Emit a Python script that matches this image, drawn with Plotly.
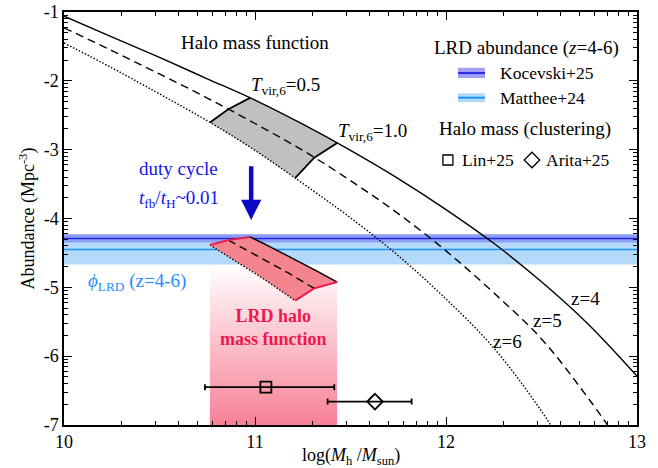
import numpy as np
import plotly.graph_objects as go

# ---------------- data ----------------
logM = [10.0, 10.25, 10.5, 10.75, 11.0, 11.25, 11.5, 11.75, 12.0, 12.25, 12.5, 12.75, 13.0]
hmf_z4 = [-1.06, -1.36, -1.66, -1.97, -2.28, -2.63, -3.01, -3.42, -3.87, -4.36, -4.92, -5.55, -6.29]
hmf_z5 = [-1.23, -1.56, -1.90, -2.25, -2.62, -3.01, -3.45, -3.93, -4.47, -5.08, -5.75, -6.63, -7.62]
hmf_z6 = [-1.45, -1.81, -2.19, -2.58, -3.01, -3.49, -3.99, -4.54, -5.17, -5.88, -6.80, -7.90, -9.00]
redshift_labels = ["z=4", "z=5", "z=6"]

# halo masses where T_vir,6 = 0.5 and 1.0 (z=4, 5, 6)
Mh_T05 = [10.974, 10.86, 10.764]
Mh_T10 = [11.43, 11.31, 11.21]
# log duty cycle (t_fb / t_H) per redshift
log_duty = [-2.02, -1.90, -1.78]

# LRD abundance bands: (centre, upper, lower)
kocevski = [-4.29, -4.23, -4.35]
matthee = [-4.45, -4.23, -4.67]

# clustering halo masses
lin_M, lin_lo, lin_hi, lin_phi = 11.057, 10.738, 11.415, -6.45
arita_M, arita_lo, arita_hi, arita_phi = 11.628, 11.38, 11.82, -6.66

xticks = [10, 11, 12, 13]
yticks = [-7, -6, -5, -4, -3, -2, -1]

# ---------------- helpers ----------------
curves = [hmf_z4, hmf_z5, hmf_z6]


def at(curve, m, shift=0.0):
    return float(np.interp(m, logM, curve)) + shift


def seg(curve, a, b, shift=0.0, n=40):
    xs = np.linspace(a, b, n)
    return list(xs), list(np.interp(xs, logM, curve) + shift)


def region(shifts):
    x4, y4 = seg(hmf_z4, Mh_T05[0], Mh_T10[0], shifts[0])
    x6, y6 = seg(hmf_z6, Mh_T10[2], Mh_T05[2], shifts[2])
    xs = x4 + [Mh_T10[1]] + x6 + [Mh_T05[1], Mh_T05[0]]
    ys = y4 + [at(hmf_z5, Mh_T10[1], shifts[1])] + y6 + [at(hmf_z5, Mh_T05[1], shifts[1]), y4[0]]
    return xs, ys


FONT = "Liberation Serif"
FS = 19
fig = go.Figure()

# pink gradient under LRD halo mass function
fig.add_trace(go.Scatter(
    x=[Mh_T05[2], Mh_T10[0], Mh_T10[0], Mh_T05[2], Mh_T05[2]],
    y=[-7, -7, matthee[2], matthee[2], -7],
    fill="toself", mode="none",
    fillgradient=dict(type="vertical", start=-7, stop=matthee[2],
                      colorscale=[[0, "rgb(247,128,150)"], [1, "rgb(255,255,255)"]]),
    hoverinfo="skip", showlegend=False))

# bands
fig.add_trace(go.Scatter(x=[10, 13, 13, 10, 10], y=[matthee[1], matthee[1], matthee[2], matthee[2], matthee[1]],
                         fill="toself", mode="none", fillcolor="rgb(180,218,250)", showlegend=False))
fig.add_trace(go.Scatter(x=[10, 13, 13, 10, 10], y=[kocevski[1], kocevski[1], kocevski[2], kocevski[2], kocevski[1]],
                         fill="toself", mode="none", fillcolor="rgba(100,100,240,0.5)", showlegend=False))
fig.add_trace(go.Scatter(x=[10, 13], y=[matthee[0]] * 2, mode="lines",
                         line=dict(color="rgb(30,144,255)", width=1.5), showlegend=False))
fig.add_trace(go.Scatter(x=[10, 13], y=[kocevski[0]] * 2, mode="lines",
                         line=dict(color="rgb(40,40,225)", width=1.5), showlegend=False))

# gray region (HMF between T_vir,6 = 0.5 and 1.0)
gx, gy = region([0, 0, 0])
fig.add_trace(go.Scatter(x=gx, y=gy, fill="toself", mode="none", fillcolor="rgb(192,192,192)", showlegend=False))

# HMF curves
dashes = ["solid", "8px,5px", "1.5px,1.8px"]
for c, d in zip(curves, dashes):
    fig.add_trace(go.Scatter(x=logM, y=c, mode="lines", line=dict(color="black", width=1.4, dash=d, shape="spline"),
                             showlegend=False))

# T_vir lines
for Ms in (Mh_T05, Mh_T10):
    fig.add_trace(go.Scatter(x=Ms, y=[at(c, m) for c, m in zip(curves, Ms)], mode="lines",
                             line=dict(color="black", width=1.8), showlegend=False))

# LRD halo mass function region (HMF x duty cycle)
rx, ry = region(log_duty)
fig.add_trace(go.Scatter(x=rx, y=ry, fill="toself", mode="none", fillcolor="rgb(244,132,142)", showlegend=False))
for i, (c, d, s) in enumerate(zip(curves, dashes, log_duty)):
    sx, sy = seg(c, Mh_T05[i], Mh_T10[i], s)
    fig.add_trace(go.Scatter(x=sx, y=sy, mode="lines", line=dict(color="black", width=1.4, dash=d),
                             showlegend=False))
for Ms in (Mh_T05, Mh_T10):
    fig.add_trace(go.Scatter(x=Ms, y=[at(c, m, s) for c, m, s in zip(curves, Ms, log_duty)], mode="lines",
                             line=dict(color="rgb(240,20,70)", width=1.8), showlegend=False))

# clustering measurements
fig.add_trace(go.Scatter(x=[lin_M], y=[lin_phi], mode="markers",
                         marker=dict(symbol="square-open", size=11, color="black", line=dict(width=1.8)),
                         error_x=dict(type="data", symmetric=False, array=[lin_hi - lin_M], arrayminus=[lin_M - lin_lo],
                                      color="black", thickness=1.8, width=3),
                         showlegend=False))
fig.add_trace(go.Scatter(x=[arita_M], y=[arita_phi], mode="markers",
                         marker=dict(symbol="diamond-open", size=12, color="black", line=dict(width=1.8)),
                         error_x=dict(type="data", symmetric=False, array=[arita_hi - arita_M],
                                      arrayminus=[arita_M - arita_lo], color="black", thickness=1.8, width=3),
                         showlegend=False))

# legend symbols
fig.add_trace(go.Scatter(x=[12.01], y=[-3.15], mode="markers",
                         marker=dict(symbol="square-open", size=10, color="black", line=dict(width=1.3)),
                         showlegend=False))
fig.add_trace(go.Scatter(x=[12.45], y=[-3.15], mode="markers",
                         marker=dict(symbol="diamond-open", size=12, color="black", line=dict(width=1.3)),
                         showlegend=False))

shapes = [
    dict(type="rect", xref="x", yref="y", x0=12.063, x1=12.204, y0=-1.81, y1=-1.96,
         fillcolor="rgb(160,160,245)", line=dict(width=0)),
    dict(type="line", xref="x", yref="y", x0=12.063, x1=12.204, y0=-1.887, y1=-1.887,
         line=dict(color="rgb(40,40,225)", width=2)),
    dict(type="rect", xref="x", yref="y", x0=12.063, x1=12.204, y0=-2.18, y1=-2.31,
         fillcolor="rgb(180,218,250)", line=dict(width=0)),
    dict(type="line", xref="x", yref="y", x0=12.063, x1=12.204, y0=-2.245, y1=-2.245,
         line=dict(color="rgb(30,144,255)", width=2)),
]

F = dict(family=FONT, size=FS, color="black")
FL = dict(family=FONT, size=17.5, color="black")
BLUE = "rgb(20,20,235)"
ann = [
    dict(x=11.0, y=-1.45, text="Halo mass function", xanchor="center"),
    dict(x=12.42, y=-1.52, text="LRD abundance (<i>z</i>=4-6)", xanchor="center"),
    dict(x=12.27, y=-1.89, text="Kocevski+25", xanchor="left", font=FL),
    dict(x=12.27, y=-2.25, text="Matthee+24", xanchor="left", font=FL),
    dict(x=12.414, y=-2.70, text="Halo mass (clustering)", xanchor="center"),
    dict(x=12.075, y=-3.15, text="Lin+25", xanchor="left", font=FL),
    dict(x=12.515, y=-3.15, text="Arita+25", xanchor="left", font=FL),
    dict(x=10.968, y=-2.08, text="<i>T</i><sub>vir,6</sub>=0.5", xanchor="left"),
    dict(x=11.425, y=-2.74, text="<i>T</i><sub>vir,6</sub>=1.0", xanchor="left"),
    dict(x=12.73, y=-5.16, text=redshift_labels[0], xanchor="center"),
    dict(x=12.53, y=-5.48, text=redshift_labels[1], xanchor="center"),
    dict(x=12.32, y=-5.79, text=redshift_labels[2], xanchor="center"),
    dict(x=10.6, y=-3.27, text="duty cycle", xanchor="center", font=dict(family=FONT, size=FS, color=BLUE)),
    dict(x=10.6, y=-3.72, text="<i>t</i><sub>fb</sub>/<i>t</i><sub>H</sub>~0.01", xanchor="center",
         font=dict(family=FONT, size=FS, color=BLUE)),
    dict(x=10.38, y=-4.92, text="<i>ϕ</i><sub>LRD</sub> (z=4-6)", xanchor="center",
         font=dict(family=FONT, size=FS, color="rgb(40,140,255)")),
    dict(x=11.095, y=-5.58, text="<b>LRD halo<br>mass function</b>", xanchor="center",
         font=dict(family=FONT, size=18, color="rgb(238,24,78)")),
]
annotations = []
for a in ann:
    d = dict(xref="x", yref="y", showarrow=False, yanchor="middle", font=F)
    d.update(a)
    annotations.append(d)
# axis titles
annotations.append(dict(xref="paper", yref="paper", x=0.5, y=-0.076, yanchor="middle", xanchor="center",
                        showarrow=False, text="log(<i>M</i><sub>h</sub> /<i>M</i><sub>sun</sub>)",
                        font=dict(family=FONT, size=18, color="black")))
annotations.append(dict(xref="paper", yref="paper", x=-0.0645, y=0.5, yanchor="middle", xanchor="center",
                        showarrow=False, textangle=-90, text="Abundance (Mpc<sup>-3</sup>)",
                        font=dict(family=FONT, size=18, color="black")))
# duty cycle arrow
annotations.append(dict(x=10.98, y=-4.02, ax=10.98, ay=-3.22, xref="x", yref="y", axref="x", ayref="y",
                        showarrow=True, arrowhead=2, arrowsize=0.9, arrowwidth=4.5,
                        arrowcolor="rgb(10,10,195)", text=""))


def minor(lo, hi):
    return [n + np.log10(k) for n in range(lo, hi) for k in range(2, 10)]


axis_common = dict(showline=True, linecolor="black", linewidth=1.5, mirror="ticks", ticks="inside",
                   ticklen=8, tickwidth=1.2, tickcolor="black", showgrid=False, zeroline=False,
                   automargin=False, tickfont=dict(family=FONT, size=18, color="black"))
fig.update_layout(
    width=658, height=468, margin=dict(l=64, r=21, t=12, b=43),
    plot_bgcolor="white", paper_bgcolor="white", font=dict(family=FONT, size=FS, color="black"),
    shapes=shapes, annotations=annotations, showlegend=False,
    xaxis=dict(range=[10, 13], tickmode="array", tickvals=xticks, ticktext=[str(t) for t in xticks],
               minor=dict(tickmode="array", tickvals=minor(10, 13), ticks="inside", ticklen=4,
                          tickcolor="black", tickwidth=1),
               **axis_common),
    yaxis=dict(range=[-7, -1], tickmode="array", tickvals=yticks, ticktext=[str(t) for t in yticks],
               minor=dict(tickmode="array", tickvals=minor(-7, -1), ticks="inside", ticklen=4,
                          tickcolor="black", tickwidth=1),
               **axis_common),
)

fig.write_html("out.html")
